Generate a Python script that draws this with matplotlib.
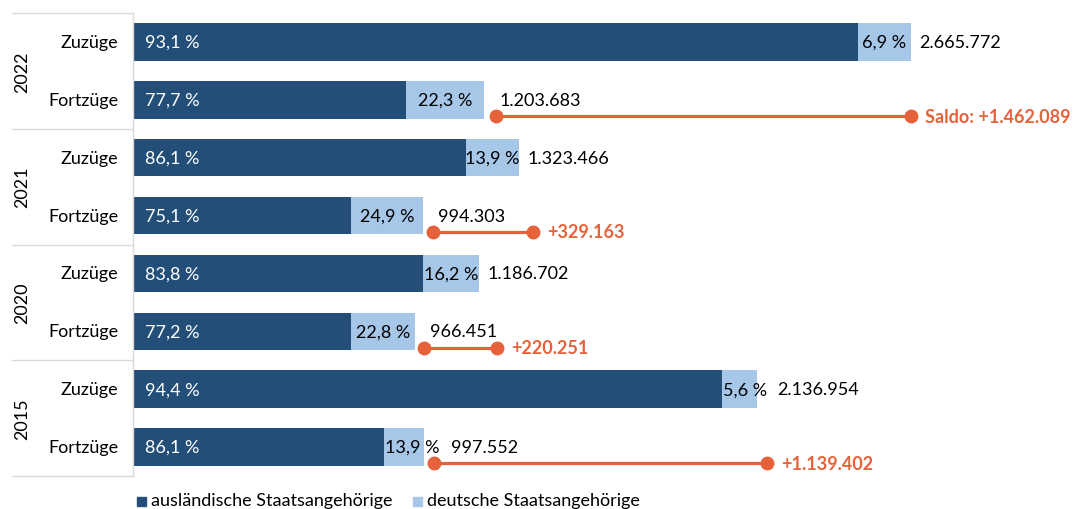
import matplotlib
matplotlib.use('Agg')
from matplotlib import pyplot as plt
from matplotlib import transforms
from matplotlib.patches import Rectangle

plt.rcParams['font.family'] = ['Lato', 'DejaVu Sans']

# data
years = ['2022', '2021', '2020', '2015']
zuzuege = [2665772, 1323466, 1186702, 2136954]
fortzuege = [1203683, 994303, 966451, 997552]
ausl_zu = [93.1, 86.1, 83.8, 94.4]   # share foreigners in Zuzüge (%)
dt_zu = [6.9, 13.9, 16.2, 5.6]
ausl_fort = [77.7, 75.1, 77.2, 86.1]  # share foreigners in Fortzüge (%)
dt_fort = [22.3, 24.9, 22.8, 13.9]
row_names = ['Zuzüge', 'Fortzüge']
legend_labels = ['ausländische Staatsangehörige', 'deutsche Staatsangehörige']

dark = '#224e78'
light = '#a7c7e9'
orange = '#e6623a'
grey = '#d9d9d9'
fs = 13

# pixel nudges of the saldo dots (start, end) as in the original graphic
saldo_nudge = [(12, 0), (10, 14), (9, 18), (10, 10)]


def de_num(v):
    return f'{v:,}'.replace(',', '.')


def de_pct(p):
    return f'{p:.1f}'.replace('.', ',') + ' %'


fig = plt.figure(figsize=(10.76, 5.10), dpi=100)
W, H = 1076, 510
ax = fig.add_axes([133 / W, 33 / H, 943 / W, 463 / H])
ax.set_xlim(0, 3230000)
ax.set_ylim(7.5, -0.5)
ax.axis('off')


def shifted(px):
    return transforms.offset_copy(ax.transData, fig=fig, x=px, y=0, units='dots')


bt = transforms.blended_transform_factory(ax.transAxes, ax.transData)
bar_h = 0.65
for i, yr in enumerate(years):
    rows = [(2 * i, zuzuege[i], ausl_zu[i], dt_zu[i]),
            (2 * i + 1, fortzuege[i], ausl_fort[i], dt_fort[i])]
    for k, (y, total, pa, pd) in enumerate(rows):
        a = total * pa / 100
        d = total * pd / 100
        ax.barh(y, a, height=bar_h, color=dark)
        ax.barh(y, d, left=a, height=bar_h, color=light)
        ax.text(0, y, de_pct(pa), color='white', fontsize=fs, va='center',
                ha='left', transform=shifted(12))
        small = d < 150000
        if small:
            ax.text(a, y, de_pct(pd), color='black', fontsize=fs, va='center',
                    ha='left', transform=shifted(1))
        else:
            ax.text(a + d / 2, y, de_pct(pd), color='black', fontsize=fs,
                    va='center', ha='center')
        pad = (8 if k == 0 else 15) + (12 if small else 0)
        ax.text(total, y, de_num(total), color='black', fontsize=fs,
                va='center', ha='left', transform=shifted(pad))
        ax.text(-15 / 943, y, row_names[k], fontsize=fs, va='center', ha='right',
                transform=bt)

    # saldo line
    ys = 2 * i + 1 + 0.28
    saldo = zuzuege[i] - fortzuege[i]
    s0, s1 = saldo_nudge[i]
    ax.plot([fortzuege[i]], [ys], 'o', color=orange, markersize=9,
            transform=shifted(s0), clip_on=False)
    ax.plot([zuzuege[i]], [ys], 'o', color=orange, markersize=9,
            transform=shifted(s1), clip_on=False)
    p0 = shifted(s0).transform((fortzuege[i], ys))
    p1 = shifted(s1).transform((zuzuege[i], ys))
    ax.plot([p0[0], p1[0]], [p0[1], p1[1]], color=orange, lw=2.3,
            transform=None, clip_on=False)
    lab = ('Saldo: +' if i == 0 else '+') + de_num(saldo)
    ax.text(zuzuege[i], ys, lab, color=orange, fontsize=fs, fontweight='bold',
            va='center', ha='left', transform=shifted(s1 + 14))

    # year label
    ax.text(-111 / 943, 2 * i + 0.5, yr, fontsize=fs, rotation=90, va='center',
            ha='center', transform=bt)

# group separators and left axis line
for yb in [-0.5, 1.5, 3.5, 5.5, 7.5]:
    ax.plot([-121 / 943, 0], [yb, yb], color=grey, lw=1, transform=bt, clip_on=False)
ax.plot([0, 0], [-0.5, 7.5], color=grey, lw=1, transform=bt, clip_on=False)

# legend
for x0, col, lab in [(137, dark, legend_labels[0]), (413, light, legend_labels[1])]:
    fig.patches.append(Rectangle((x0 / W, 1 - 507 / H), 9 / W, 9 / H, color=col,
                                 transform=fig.transFigure))
    fig.text((x0 + 14) / W, 1 - 501 / H, lab, fontsize=fs, va='center', ha='left')

fig.savefig('out.png', dpi=100)
